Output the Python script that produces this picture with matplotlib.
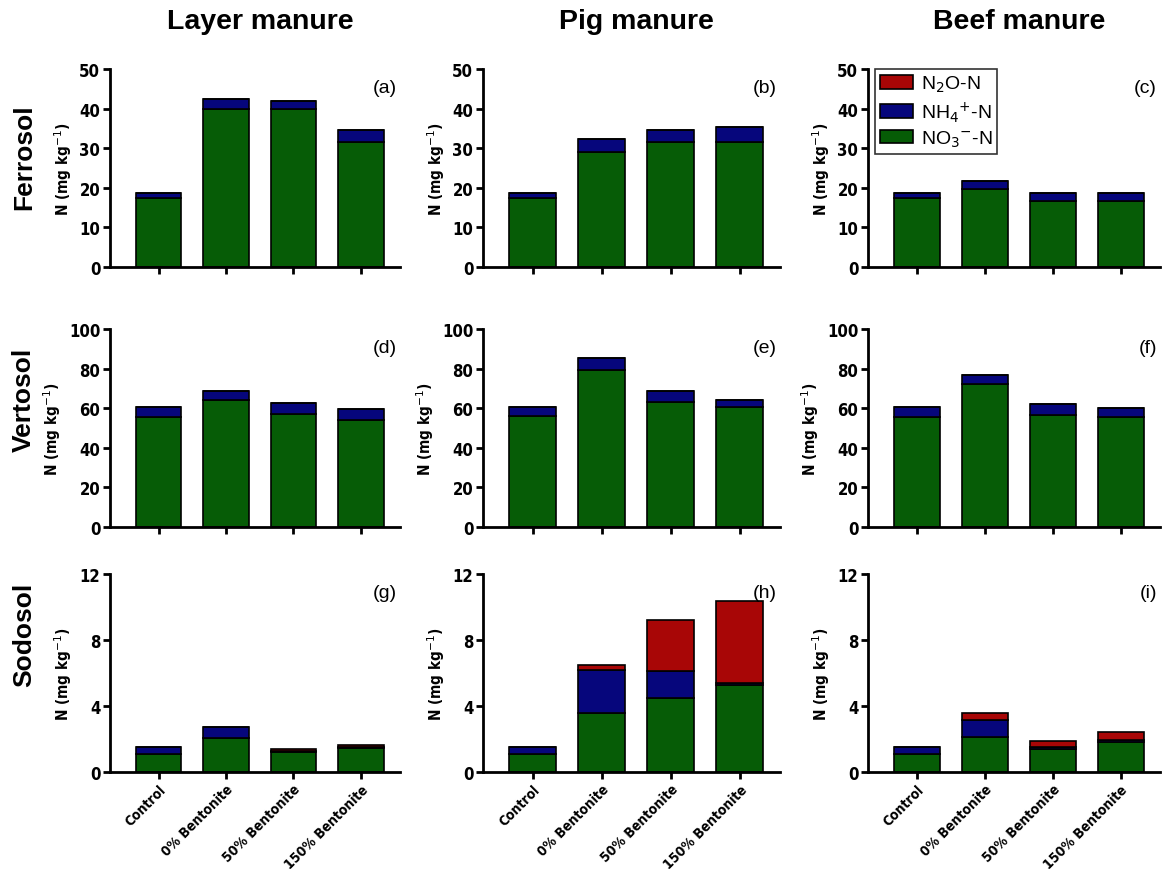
import matplotlib
matplotlib.use("Agg")
import matplotlib.pyplot as plt
import numpy as np

categories = ["Control", "0% Bentonite", "50% Bentonite", "150% Bentonite"]
manures = ["Layer manure", "Pig manure", "Beef manure"]
soils = ["Ferrosol", "Vertosol", "Sodosol"]
panel_tags = ["(a)", "(b)", "(c)", "(d)", "(e)", "(f)", "(g)", "(h)", "(i)"]

# NO3--N, NH4+-N and N2O-N (mg kg-1), per soil (rows) and manure (columns)
no3 = [
    [[17.3, 39.9, 39.9, 31.6], [17.4, 29.1, 31.6, 31.6], [17.3, 19.7, 16.7, 16.7]],
    [[55.6, 64.0, 57.2, 54.2], [56.0, 79.3, 63.2, 60.8], [55.6, 72.3, 56.8, 55.5]],
    [[1.07, 2.09, 1.21, 1.47], [1.07, 3.56, 4.48, 5.30], [1.07, 2.11, 1.41, 1.79]],
]
nh4 = [
    [[1.4, 2.5, 2.1, 3.0], [1.3, 3.3, 3.1, 3.7], [1.4, 2.1, 2.0, 2.0]],
    [[5.2, 4.9, 5.6, 5.6], [4.7, 6.1, 5.5, 3.4], [5.1, 4.5, 5.2, 4.7]],
    [[0.42, 0.64, 0.04, 0.03], [0.42, 2.61, 1.65, 0.07], [0.42, 1.07, 0.12, 0.16]],
]
n2o = [
    [[0.0, 0.0, 0.0, 0.0], [0.0, 0.0, 0.0, 0.0], [0.0, 0.0, 0.0, 0.0]],
    [[0.0, 0.0, 0.0, 0.0], [0.0, 0.0, 0.0, 0.0], [0.0, 0.0, 0.0, 0.0]],
    [[0.0, 0.0, 0.16, 0.15], [0.0, 0.30, 3.10, 5.00], [0.0, 0.40, 0.36, 0.50]],
]
ymax = [50, 100, 12]
yticks = [[0, 10, 20, 30, 40, 50], [0, 20, 40, 60, 80, 100], [0, 4, 8, 12]]

green = "#065c06"
navy = "#06067c"
red = "#a80606"

plt.rcParams["font.family"] = ["Liberation Sans", "DejaVu Sans"]
axis_font = dict(family=["DejaVu Sans"], stretch="condensed", weight="bold")

fig = plt.figure(figsize=(11.65, 8.7), dpi=100)

W, H = 1165.0, 870.0
col_left = [110 / W, 483 / W, 868 / W]
col_width = [290 / W, 297 / W, 292 / W]
row_top = [70, 330, 575]
row_h = 198
row_label_y = [157, 400, 635]

x = np.arange(len(categories))
w = 0.68
for r in range(3):
    for c in range(3):
        bottom = 1 - (row_top[r] + row_h) / H
        ax = fig.add_axes([col_left[c], bottom, col_width[c], row_h / H])
        a = np.array(no3[r][c])
        b = np.array(nh4[r][c])
        d = np.array(n2o[r][c])
        kw = dict(width=w, edgecolor="black", linewidth=1.2)
        h3 = ax.bar(x, a, color=green, **kw)
        h2 = ax.bar(x, b, bottom=a, color=navy, **kw)
        h1 = ax.bar(x, d, bottom=a + b, color=red, **kw)
        ax.set_xlim(-0.72, 3.58)
        ax.set_ylim(0, ymax[r])
        ax.set_yticks(yticks[r])
        ax.set_xticks(x)
        for s in ("top", "right"):
            ax.spines[s].set_visible(False)
        for s in ("left", "bottom"):
            ax.spines[s].set_linewidth(2)
        ax.tick_params(axis="both", width=2, length=5, direction="out", pad=2)
        for lab in ax.get_yticklabels():
            lab.set_fontsize(12)
            lab.set_fontproperties(dict(axis_font, size=12))
        if r == 2:
            ax.set_xticklabels(categories, rotation=45, ha="right",
                               rotation_mode="anchor")
            for lab in ax.get_xticklabels():
                lab.set_fontproperties(dict(axis_font, size=10))
        else:
            ax.set_xticklabels([])
        ax.set_ylabel("N (mg kg$^{-1}$)", fontdict=dict(axis_font, size=11),
                      labelpad=4)
        ax.text(0.99, 0.905, panel_tags[r * 3 + c], transform=ax.transAxes,
                ha="right", va="center", fontsize=14)
        if r == 0 and c == 2:
            leg = ax.legend([h1, h2, h3],
                            ["N$_2$O-N", "NH$_4$$^{+}$-N", "NO$_3$$^{-}$-N"],
                            loc="upper left", bbox_to_anchor=(0.01, 1.02),
                            fontsize=14, frameon=True, fancybox=False,
                            handlelength=1.7, handleheight=0.7,
                            borderpad=0.25, labelspacing=0.25,
                            handletextpad=0.4, borderaxespad=0.2)
            leg.get_frame().set_edgecolor("black")
            leg.get_frame().set_linewidth(1.2)
        if r == 0:
            fig.text(col_left[c] + col_width[c] / 2 + 5 / W, 1 - 22 / H,
                     manures[c], ha="center", va="center",
                     fontsize=20.5, fontweight="bold")
        if c == 0:
            fig.text(24 / W, 1 - row_label_y[r] / H, soils[r],
                     rotation=90, ha="center", va="center",
                     fontsize=19, fontweight="bold")

fig.savefig("out.png", dpi=100)
